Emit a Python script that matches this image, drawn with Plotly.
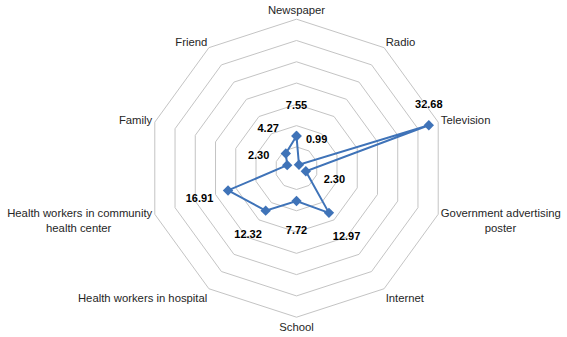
import plotly.graph_objects as go

NB = "\u00a0"
categories = ["Newspaper", "Radio", "Television",
              "Government advertising<br>" + NB * 14 + "poster",
              "Internet", "School", "Health workers in hospital",
              "Health workers in community<br>health center" + NB * 13, "Family", "Friend"]
values = [7.55, 0.99, 32.68, 2.30, 12.97, 7.72, 12.32, 16.91, 2.30, 4.27]
value_labels = ["7.55", "0.99", "32.68", "2.30", "12.97", "7.72", "12.32", "16.91", "2.30", "4.27"]

W, H = 567, 337
cx, cy, R = 296.5, 168.2, 149.0
rmax = 35
label_gap = 30 / (R / rmax)  # radial offset of data labels, in data units

line_color = "#3F73B8"
lab_font = dict(family="Liberation Sans, Arial", size=11, color="#000000", weight="bold")

fig = go.Figure()

# main series (closed)
fig.add_trace(go.Scatterpolar(
    r=values + values[:1],
    theta=categories + categories[:1],
    mode="lines+markers",
    line=dict(color=line_color, width=2),
    marker=dict(symbol="diamond", size=8, color=line_color),
    hoverinfo="skip",
    showlegend=False,
))

# data labels placed radially outward, except the largest one placed above its point
lab_r = [v + label_gap for v in values]
big = values.index(max(values))
text_out = [t if i != big else "" for i, t in enumerate(value_labels)]
fig.add_trace(go.Scatterpolar(
    r=lab_r, theta=categories, mode="text", text=text_out,
    textfont=lab_font,
    textposition="middle center", cliponaxis=False, showlegend=False, hoverinfo="skip",
))
fig.add_trace(go.Scatterpolar(
    r=[values[big]], theta=[categories[big]], mode="text",
    text=[value_labels[big] + "<br>" + NB],
    textfont=lab_font,
    textposition="top center", cliponaxis=False, showlegend=False, hoverinfo="skip",
))

fig.update_layout(
    width=W, height=H,
    margin=dict(l=0, r=0, t=0, b=0),
    paper_bgcolor="white",
    polar=dict(
        domain=dict(x=[(cx - R) / W, (cx + R) / W], y=[(H - cy - R) / H, (H - cy + R) / H]),
        bgcolor="white",
        gridshape="linear",
        radialaxis=dict(range=[0, rmax], dtick=5, showticklabels=False, ticks="",
                        showline=False, gridcolor="#C4C4C4", gridwidth=1),
        angularaxis=dict(direction="clockwise", rotation=90, showgrid=False,
                         showline=True, linecolor="#C4C4C4", linewidth=1, ticks="",
                         tickfont=dict(family="Liberation Sans, Arial", size=11.3, color="#262626")),
    ),
)

fig.write_html("out.html", config={"displayModeBar": False},
               post_script="document.body.style.margin='0';")
